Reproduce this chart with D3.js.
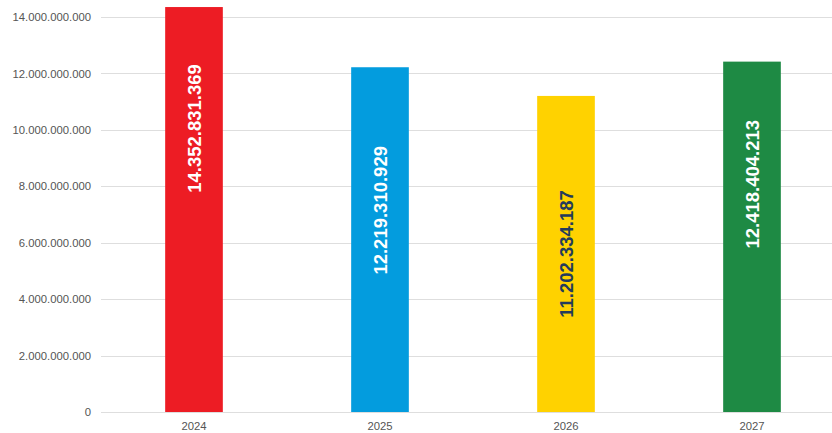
<!DOCTYPE html>
<html>
<head>
<meta charset="utf-8">
<script src="https://cdn.jsdelivr.net/npm/d3@7"></script>
<style>
  html, body { margin: 0; padding: 0; background: #fff; }
  svg { display: block; font-family: "Liberation Sans", Arial, sans-serif; }
</style>
</head>
<body>
<svg id="chart" width="832" height="433"></svg>
<script>
// Yearly totals
const years = ["2024", "2025", "2026", "2027"];
const totals = [14352831369, 12219310929, 11202334187, 12418404213];
const barColors = ["#ED1C24", "#039CDE", "#FFD200", "#1E8A44"];
const labelColors = ["#ffffff", "#ffffff", "#243B5C", "#ffffff"];
const yTicks = [0, 2000000000, 4000000000, 6000000000, 8000000000, 10000000000, 12000000000, 14000000000];
// where each value label sits along its bar (fraction of bar height)
const labelAt = [0.70, 0.585, 0.50, 0.65];

const locale = d3.formatLocale({ decimal: ",", thousands: ".", grouping: [3], currency: ["", ""] });
const fmt = locale.format(",d");

const svg = d3.select("#chart");
const x = d3.scaleBand().domain(years).range([101, 845]).padding(0);
const y = d3.scaleLinear().domain([0, 14000000000]).range([412, 17]);
const barW = x.bandwidth() * 0.31;

// grid lines
svg.append("g")
  .selectAll("line")
  .data(yTicks)
  .join("line")
  .attr("x1", 101).attr("x2", 845)
  .attr("y1", d => Math.round(y(d)) + 0.5)
  .attr("y2", d => Math.round(y(d)) + 0.5)
  .attr("stroke", "#dedede")
  .attr("stroke-width", 1);

// y axis labels
const yAxis = d3.axisLeft(y).tickValues(yTicks).tickFormat(fmt).tickSize(0).tickPadding(0);
svg.append("g")
  .attr("transform", "translate(91,0)")
  .call(yAxis)
  .call(g => g.select(".domain").remove())
  .call(g => g.selectAll("text")
    .attr("fill", "#555")
    .attr("font-size", 11.3)
    .attr("font-family", "Liberation Sans, Arial, sans-serif"));

// x axis labels
const xAxis = d3.axisBottom(x).tickSize(0).tickPadding(0);
svg.append("g")
  .attr("transform", "translate(0,422)")
  .call(xAxis)
  .call(g => g.select(".domain").remove())
  .call(g => g.selectAll("text")
    .attr("fill", "#555")
    .attr("font-size", 11.3)
    .attr("font-family", "Liberation Sans, Arial, sans-serif"));

// bars
const data = years.map((yr, i) => ({ yr, v: totals[i], c: barColors[i], lc: labelColors[i], at: labelAt[i] }));
svg.append("g")
  .selectAll("rect")
  .data(data)
  .join("rect")
  .attr("x", d => x(d.yr) + (x.bandwidth() - barW) / 2)
  .attr("y", d => y(d.v))
  .attr("width", barW)
  .attr("height", d => y(0) - y(d.v))
  .attr("fill", d => d.c);

// rotated value labels
svg.append("g")
  .selectAll("text")
  .data(data)
  .join("text")
  .attr("transform", d => `translate(${x(d.yr) + x.bandwidth() / 2},${y(d.v * d.at)}) rotate(-90)`)
  .attr("text-anchor", "middle")
  .attr("dominant-baseline", "central")
  .attr("font-size", 18.5)
  .attr("font-weight", "bold")
  .attr("fill", d => d.lc)
  .text(d => fmt(d.v));
</script>
</body>
</html>
